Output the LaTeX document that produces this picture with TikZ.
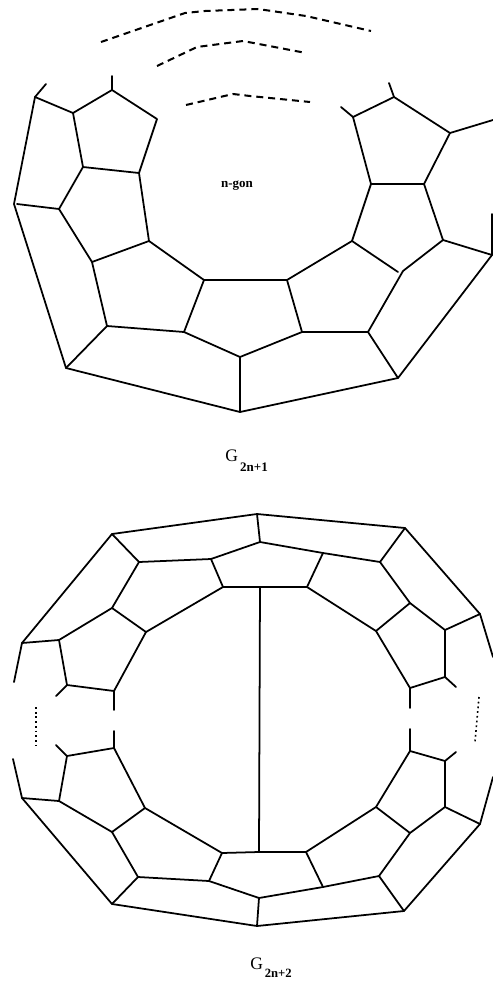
\documentclass[tikz,border=0pt]{standalone}
\usepackage{fontspec}
\setmainfont{Liberation Serif}
\tikzset{
  link/.style={line width=1pt, line join=round, line cap=round},
  dashline/.style={line width=1.15pt, dash pattern=on 4pt off 2.8pt},
  dotline/.style={line width=0.9pt, dash pattern=on 1pt off 1.7pt},
  smalltext/.style={font=\bfseries\fontsize{7.4}{9}\selectfont, inner sep=0pt},
  graphname/.style={font=\fontsize{10}{12}\selectfont, inner sep=0pt, anchor=base west}
}
\begin{document}
\begin{tikzpicture}[x=0.02cm,y=-0.02cm]
\useasboundingbox (0,0) rectangle (493,984);
% upper graph, left pentagons
\coordinate (ul) at (35,97);
\coordinate (uls) at (46,84);
\coordinate (ua) at (73,113);
\coordinate (ub) at (112,90);
\coordinate (ubs) at (112,76);
\coordinate (uc) at (157,119);
\coordinate (ud) at (139,173);
\coordinate (ue) at (83,167);
\coordinate (uo) at (14,204);
\coordinate (uog) at (17,204);
\coordinate (uf) at (59,209);
\coordinate (ug) at (92,262);
\coordinate (uh) at (149,241);
% upper graph, bottom
\coordinate (ui) at (204,280);
\coordinate (uj) at (287,280);
\coordinate (uk) at (107,326);
\coordinate (um) at (184,332);
\coordinate (un) at (302,332);
\coordinate (up) at (368,332);
\coordinate (uq) at (240,357);
\coordinate (ur) at (240,412);
\coordinate (us) at (66,368);
\coordinate (ut) at (398,378);
% upper graph, right pentagons
\coordinate (uu) at (352,241);
\coordinate (uug) at (398,272);
\coordinate (uv) at (403,271);
\coordinate (uw) at (443,240);
\coordinate (ux) at (492,255);
\coordinate (uxs) at (492,214);
\coordinate (va) at (371,184);
\coordinate (vb) at (424,184);
\coordinate (vc) at (353,117);
\coordinate (vcs) at (341,107);
\coordinate (vd) at (394,97);
\coordinate (vds) at (389,83);
\coordinate (ve) at (450,133);
\coordinate (vf) at (493,120);
% upper graph, edges
\draw[link] (uls) -- (ul) -- (uo) -- (us) -- (ur) -- (ut) -- (ux) -- (uxs);
\draw[link] (ul) -- (ua) -- (ub) -- (uc) -- (ud) -- (ue) -- (ua);
\draw[link] (ub) -- (ubs);
\draw[link] (ue) -- (uf) -- (uog);
\draw[link] (uf) -- (ug) -- (uh) -- (ui) -- (uj) -- (uu) -- (uug);
\draw[link] (ud) -- (uh);
\draw[link] (ug) -- (uk) -- (um) -- (uq) -- (un) -- (up) -- (uv) -- (uw) -- (ux);
\draw[link] (uk) -- (us);
\draw[link] (ui) -- (um);
\draw[link] (uj) -- (un);
\draw[link] (uq) -- (ur);
\draw[link] (up) -- (ut);
\draw[link] (uu) -- (va) -- (vc) -- (vd) -- (ve) -- (vb) -- (va);
\draw[link] (vb) -- (uw);
\draw[link] (vc) -- (vcs);
\draw[link] (vd) -- (vds);
\draw[link] (ve) -- (vf);
% dashed arcs
\coordinate (aa) at (101,42);
\coordinate (ab) at (185,13);
\coordinate (ac) at (205,11);
\coordinate (ad) at (258,9);
\coordinate (af) at (306,16);
\coordinate (ae) at (371,31);
\coordinate (ba) at (157,66);
\coordinate (bb) at (197,47);
\coordinate (bc) at (243,41);
\coordinate (bd) at (306,53);
\coordinate (ca) at (186,105);
\coordinate (cb) at (233,94);
\coordinate (cd) at (250,96);
\coordinate (cc) at (310,102);
\draw[dashline] (aa) -- (ab) -- (ac) -- (ad) -- (af) -- (ae);
\draw[dashline] (ba) -- (bb) -- (bc) -- (bd);
\draw[dashline] (ca) -- (cb) -- (cd) -- (cc);
\node[smalltext] (ngon) at (237,186) {n-gon};
\node[graphname] (gone) at (225,461) {G\kern1.2pt\raisebox{-6pt}{\bfseries\fontsize{7.4}{9}\selectfont 2n+1}};
% lower graph, top half
\coordinate (ta) at (112,534);
\coordinate (tb) at (139,562);
\coordinate (tc) at (211,559);
\coordinate (td) at (223,587);
\coordinate (te) at (260,542);
\coordinate (tf) at (112,608);
\coordinate (tg) at (146,632);
\coordinate (th) at (59,640);
\coordinate (ti) at (22,643);
\coordinate (tis) at (14,682);
\coordinate (tj) at (67,685);
\coordinate (tjs) at (56,696);
\coordinate (tk) at (114,691);
\coordinate (tks) at (114,710);
\coordinate (tm) at (257,514);
\coordinate (tn) at (405,528);
\coordinate (tp) at (260,587);
\coordinate (tq) at (307,587);
\coordinate (tr) at (323,553);
\coordinate (ts) at (380,562);
\coordinate (tt) at (376,631);
\coordinate (tu) at (410,603);
\coordinate (tv) at (445,630);
\coordinate (tw) at (480,614);
\coordinate (tws) at (493,657);
\coordinate (tx) at (445,677);
\coordinate (txs) at (456,687);
\coordinate (ty) at (410,688);
\coordinate (tys) at (410,708);
% lower graph, bottom half
\coordinate (la) at (112,904);
\coordinate (lb) at (138,877);
\coordinate (lc) at (209,881);
\coordinate (ld) at (222,853);
\coordinate (le) at (259,898);
\coordinate (lf) at (112,832);
\coordinate (lg) at (145,808);
\coordinate (lh) at (59,801);
\coordinate (li) at (22,798);
\coordinate (lis) at (13,759);
\coordinate (lj) at (67,756);
\coordinate (ljs) at (56,745);
\coordinate (lk) at (114,748);
\coordinate (lks) at (114,731);
\coordinate (lm) at (257,926);
\coordinate (ln) at (404,911);
\coordinate (lp) at (259,852);
\coordinate (lq) at (306,852);
\coordinate (lr) at (323,887);
\coordinate (ls) at (379,876);
\coordinate (lt) at (376,807);
\coordinate (lu) at (410,833);
\coordinate (lv) at (445,807);
\coordinate (lw) at (480,824);
\coordinate (lws) at (493,777);
\coordinate (lx) at (445,761);
\coordinate (lxs) at (456,752);
\coordinate (ly) at (410,751);
\coordinate (lys) at (410,729);
% lower graph, edges
\draw[link] (tis) -- (ti) -- (ta) -- (tm) -- (tn) -- (tw) -- (tws);
\draw[link] (ta) -- (tb) -- (tc) -- (te) -- (tr) -- (ts) -- (tn);
\draw[link] (tc) -- (td) -- (tp) -- (tq) -- (tt) -- (tu) -- (ts);
\draw[link] (tm) -- (te);
\draw[link] (tq) -- (tr);
\draw[link] (tb) -- (tf) -- (tg) -- (td);
\draw[link] (tf) -- (th) -- (ti);
\draw[link] (th) -- (tj) -- (tk) -- (tg);
\draw[link] (tj) -- (tjs);
\draw[link] (tk) -- (tks);
\draw[link] (tu) -- (tv) -- (tw);
\draw[link] (tv) -- (tx) -- (ty) -- (tt);
\draw[link] (tx) -- (txs);
\draw[link] (ty) -- (tys);
\draw[link] (lis) -- (li) -- (la) -- (lm) -- (ln) -- (lw) -- (lws);
\draw[link] (la) -- (lb) -- (lc) -- (le) -- (lr) -- (ls) -- (ln);
\draw[link] (lc) -- (ld) -- (lp) -- (lq) -- (lt) -- (lu) -- (ls);
\draw[link] (lm) -- (le);
\draw[link] (lq) -- (lr);
\draw[link] (lb) -- (lf) -- (lg) -- (ld);
\draw[link] (lf) -- (lh) -- (li);
\draw[link] (lh) -- (lj) -- (lk) -- (lg);
\draw[link] (lj) -- (ljs);
\draw[link] (lk) -- (lks);
\draw[link] (lu) -- (lv) -- (lw);
\draw[link] (lv) -- (lx) -- (ly) -- (lt);
\draw[link] (lx) -- (lxs);
\draw[link] (ly) -- (lys);
\draw[link] (tp) -- (lp);
% dotted marks
\coordinate (da) at (36,707);
\coordinate (db) at (36,745);
\coordinate (dc) at (479,697);
\coordinate (dd) at (475,742);
\draw[dotline] (da) -- (db);
\draw[dotline] (dc) -- (dd);
\node[graphname] (gtwo) at (250,969) {G\kern1pt\raisebox{-5pt}{\bfseries\fontsize{7.2}{9}\selectfont 2n+2}};
\end{tikzpicture}
\end{document}
